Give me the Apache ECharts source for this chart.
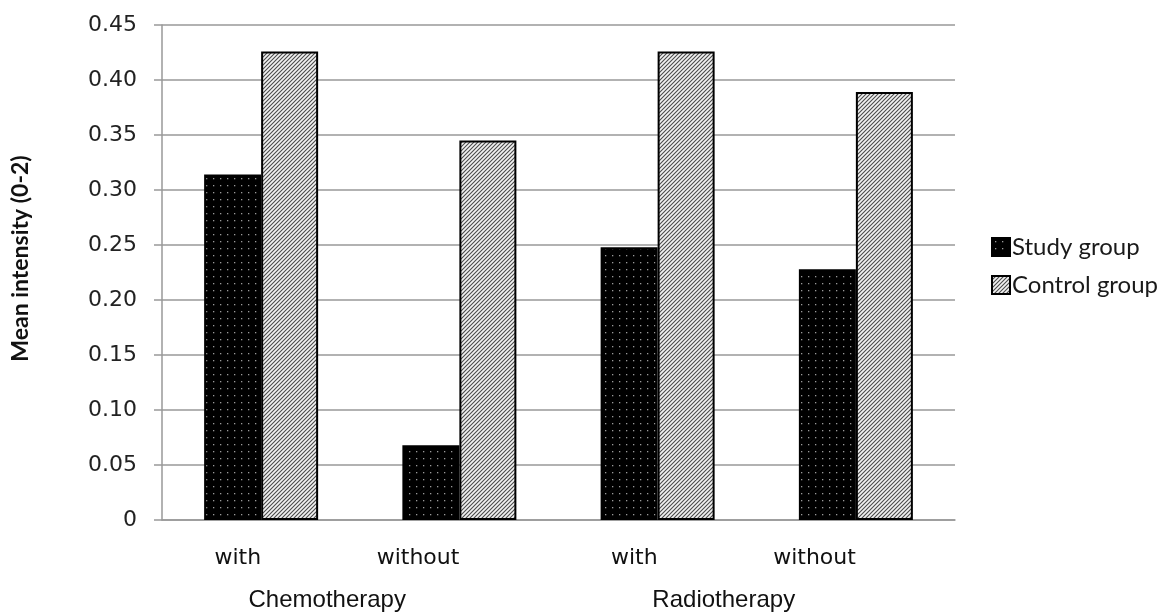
<!DOCTYPE html>
<html>
<head>
<meta charset="utf-8">
<script src="https://cdn.jsdelivr.net/npm/echarts@6/dist/echarts.min.js"></script>
<style>
  html, body { margin: 0; padding: 0; background: #fff; }
  #chart { width: 1161px; height: 613px; }
</style>
</head>
<body>
<div id="chart"></div>
<script>
// Treatment categories and the therapy each pair belongs to
const categories = ['with', 'without', 'with', 'without'];
const therapies = ['Chemotherapy', 'Radiotherapy'];

// Mean intensity on a 0-2 scale
const studyGroup = [0.314, 0.068, 0.248, 0.228];
const controlGroup = [0.426, 0.345, 0.426, 0.389];

const yTicks = { min: 0, max: 0.45, step: 0.05 };

// Dotted black fill for the study group
function dotPattern() {
  const c = document.createElement('canvas');
  c.width = 7; c.height = 7;
  const g = c.getContext('2d');
  g.fillStyle = '#000';
  g.fillRect(0, 0, 7, 7);
  g.fillStyle = '#9a9a9a';
  g.fillRect(3, 3, 1.3, 1.3);
  return c;
}

// Diagonal hatch fill for the control group
function hatchPattern() {
  const c = document.createElement('canvas');
  c.width = 4; c.height = 4;
  const g = c.getContext('2d');
  g.fillStyle = '#f2f2f2';
  g.fillRect(0, 0, 4, 4);
  g.strokeStyle = '#4a4a4a';
  g.lineWidth = 1.1;
  g.beginPath();
  g.moveTo(-1, 5); g.lineTo(5, -1);
  g.moveTo(-1, 1); g.lineTo(1, -1);
  g.moveTo(3, 5); g.lineTo(5, 3);
  g.stroke();
  return c;
}

const chart = echarts.init(document.getElementById('chart'), null, { renderer: 'canvas' });

chart.setOption({
  animation: false,
  backgroundColor: '#fff',
  grid: { left: 162, right: 206, top: 25, bottom: 93, containLabel: false, outerBoundsMode: 'none' },
  legend: {
    orient: 'vertical',
    left: 986,
    top: 230,
    itemWidth: 18,
    itemHeight: 18,
    itemGap: 14,
    icon: 'rect',
    textStyle: { fontFamily: 'Lato', fontSize: 24, color: '#1a1a1a', padding: [0, 0, 0, -3] },
    data: ['Study group', 'Control group']
  },
  xAxis: [
    {
      type: 'category',
      data: categories,
      axisLine: { lineStyle: { color: '#999', width: 1.5 } },
      axisTick: { show: false },
      axisLabel: {
        interval: 0,
        align: 'right',
        margin: 27,
        fontFamily: 'DejaVu Sans',
        fontSize: 22,
        color: '#111'
      }
    },
    {
      type: 'category',
      data: therapies,
      position: 'bottom',
      axisLine: { show: false },
      axisTick: { show: false },
      axisLabel: {
        interval: 0,
        margin: 68,
        padding: [0, 66, 0, 0],
        fontFamily: 'Liberation Sans',
        fontSize: 24,
        color: '#111'
      }
    }
  ],
  yAxis: {
    type: 'value',
    min: yTicks.min,
    max: yTicks.max,
    interval: yTicks.step,
    name: 'Mean intensity (0-2)',
    nameLocation: 'middle',
    nameGap: 130,
    nameTextStyle: { fontFamily: 'Lato', fontWeight: 'bold', fontSize: 23, color: '#111', padding: [0, 0, 0, 28] },
    axisLine: { show: true, lineStyle: { color: '#999', width: 1.5 } },
    axisTick: { show: true, length: 8, lineStyle: { color: '#999', width: 1.5 } },
    splitLine: { lineStyle: { color: '#999', width: 1.5 } },
    axisLabel: {
      margin: 25,
      fontFamily: 'DejaVu Sans',
      fontSize: 22,
      color: '#222',
      formatter: v => (v === 0 ? '0' : v.toFixed(2))
    }
  },
  series: [
    {
      name: 'Study group',
      type: 'bar',
      data: studyGroup,
      barWidth: 57,
      barGap: '0%',
      itemStyle: {
        color: { image: dotPattern(), repeat: 'repeat' },
        borderColor: '#000',
        borderWidth: 2
      }
    },
    {
      name: 'Control group',
      type: 'bar',
      data: controlGroup,
      barWidth: 57,
      barGap: '0%',
      itemStyle: {
        color: { image: hatchPattern(), repeat: 'repeat' },
        borderColor: '#000',
        borderWidth: 2
      }
    }
  ]
});
</script>
</body>
</html>
